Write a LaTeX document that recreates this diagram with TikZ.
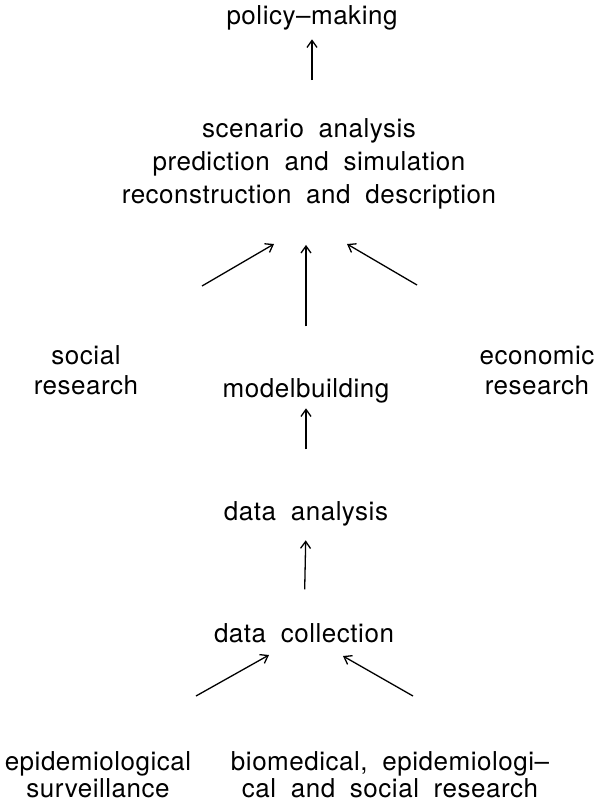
\documentclass[tikz,border=0pt]{standalone}
\usepackage{fontspec}
\setmainfont{TeX Gyre Heros}[LetterSpace=2.0,WordSpace=1.9]
\usetikzlibrary{arrows.meta}

\begin{document}
\begin{tikzpicture}[
		x=1pt, y=-1pt,
		>={Straight Barb[length=7pt,width=10pt]},
		line width=1.3pt,
		lbl/.style={inner sep=0pt, align=center, font=\fontsize{26}{27}\selectfont},
		arr/.style={->}
	]

	\useasboundingbox (0,0) rectangle (600,803);

	%% top: policy and the three kinds of analysis
	\node[lbl, anchor=base] (policy) at (312,24) {policy--making};
	\node[lbl, anchor=north, font=\fontsize{26}{33}\selectfont] (scen) at (309,118)
		{scenario analysis\\prediction and simulation\\reconstruction and description};

	%% middle row
	\node[lbl, anchor=north, font=\fontsize{26}{30}\selectfont] (social) at (86,345) {social\\research};
	\node[lbl, anchor=base] (model) at (306,397) {modelbuilding};
	\node[lbl, anchor=north, font=\fontsize{26}{30}\selectfont] (econ) at (537,345) {economic\\research};

	%% data
	\node[lbl, anchor=base] (analysis) at (306,520) {data analysis};
	\node[lbl, anchor=base] (collect) at (304,642) {data collection};

	%% bottom row
	\node[lbl, anchor=north] (surv) at (98,751) {epidemiological\\surveillance};
	\node[lbl, anchor=north] (biomed) at (390,751)
		{biomedical, epidemiologi--\\cal and social research};

	%% free ends of the slanting arrows
	\coordinate (socialOut) at (202,286);
	\coordinate (scenInL) at (274,244);
	\coordinate (econOut) at (417,285);
	\coordinate (scenInR) at (347,244);
	\coordinate (survOut) at (196,696);
	\coordinate (collectInL) at (269,655);
	\coordinate (biomedOut) at (413,696);
	\coordinate (collectInR) at (343,656);

	%% arrows
	\draw[arr, shorten <=38pt, shorten >=9pt] (scen.north -| policy) -- (policy.south);
	\draw[arr, shorten <=51pt, shorten >=35pt] (model.north) -- (model.north |- scen.south);
	\draw[arr] (socialOut) -- (scenInL);
	\draw[arr] (econOut) -- (scenInR);
	\draw[arr, shorten <=51pt, shorten >=5pt] (analysis.north) -- (model.south);
	\draw[arr, shorten <=33pt, shorten >=14pt] (collect.north) -- (analysis.south);
	\draw[arr] (survOut) -- (collectInL);
	\draw[arr] (biomedOut) -- (collectInR);

\end{tikzpicture}
\end{document}
